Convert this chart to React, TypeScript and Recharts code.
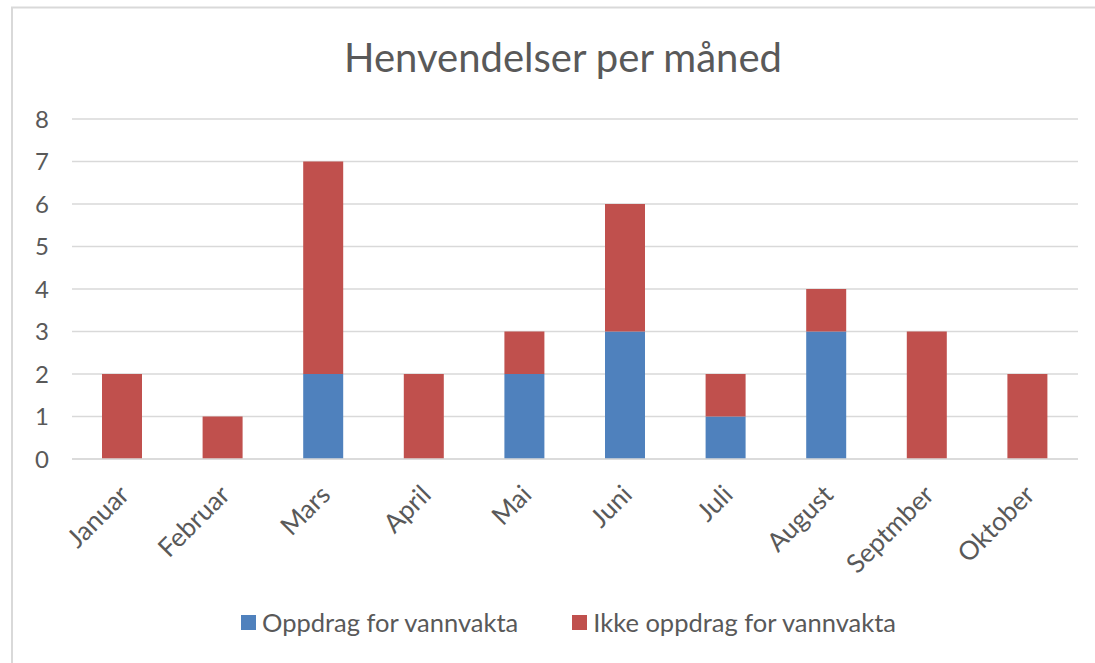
import React from 'react';
import { BarChart, Bar, XAxis, YAxis, CartesianGrid, Legend } from 'recharts';

const months = ['Januar', 'Februar', 'Mars', 'April', 'Mai', 'Juni', 'Juli', 'August', 'Septmber', 'Oktober'];
const oppdrag = [0, 0, 2, 0, 2, 3, 1, 3, 0, 0];
const ikkeOppdrag = [2, 1, 5, 2, 1, 3, 1, 1, 3, 2];
const yTicks = [0, 1, 2, 3, 4, 5, 6, 7, 8];

const BLUE = '#4F81BD';
const RED = '#C0504D';
const TEXT = '#595959';
const GRID = '#D9D9D9';
const FONT = 'Lato, "Noto Sans", sans-serif';

const data = months.map((m, i) => ({ month: m, oppdrag: oppdrag[i], ikke: ikkeOppdrag[i] }));

const MonthTick = (props: any) => {
  const { x, y, payload } = props;
  return (
    <g transform={`translate(${x + 2},${y + 23})`}>
      <text
        transform="rotate(-45)"
        textAnchor="end"
        dy="0.35em"
        fill={TEXT}
        fontSize={26}
        fontFamily={FONT}
      >
        {payload.value}
      </text>
    </g>
  );
};

const LegendContent = () => {
  const items = [
    { label: 'Oppdrag for vannvakta', color: BLUE },
    { label: 'Ikke oppdrag for vannvakta', color: RED },
  ];
  return (
    <div style={{ display: 'flex', alignItems: 'center', fontFamily: FONT, fontSize: 25.5, color: TEXT, lineHeight: 1 }}>
      {items.map((it, i) => (
        <div key={it.label} style={{ display: 'flex', alignItems: 'center', marginRight: i === 0 ? 54 : 0 }}>
          <span style={{ display: 'inline-block', width: 15, height: 15, background: it.color, marginRight: 6 }} />
          <span>{it.label}</span>
        </div>
      ))}
    </div>
  );
};

export default function App() {
  return (
    <div style={{ position: 'fixed', left: 0, top: 0, width: 1095, height: 663, overflow: 'hidden', background: '#fff' }}>
      <svg width={1095} height={663} style={{ position: 'absolute', left: 0, top: 0 }}>
        <line x1={11} y1={7.5} x2={1095} y2={7.5} stroke={GRID} strokeWidth={2} />
        <line x1={12} y1={7} x2={12} y2={663} stroke={GRID} strokeWidth={2} />
        <text x={563} y={72} textAnchor="middle" fill={TEXT} fontSize={40} fontFamily={FONT}>
          Henvendelser per måned
        </text>
      </svg>
      <div style={{ position: 'absolute', left: 0, top: 0 }}>
        <BarChart
          width={1095}
          height={663}
          data={data}
          margin={{ top: 119, right: 17, bottom: 0, left: 0 }}
        >
          <CartesianGrid vertical={false} stroke={GRID} strokeWidth={1.5} />
          <XAxis
            dataKey="month"
            interval={0}
            height={204}
            axisLine={{ stroke: GRID, strokeWidth: 1.5 }}
            tickLine={false}
            tick={<MonthTick />}
          />
          <YAxis
            domain={[0, 8]}
            ticks={yTicks}
            width={72}
            axisLine={false}
            tickLine={false}
            tickMargin={17}
            tick={{ fill: TEXT, fontSize: 24, fontFamily: FONT }}
          />
          <Legend
            layout="horizontal"
            verticalAlign="middle"
            align="center"
            wrapperStyle={{ left: 241, top: 610, width: 800 }}
            content={<LegendContent />}
          />
          <Bar dataKey="oppdrag" name="Oppdrag for vannvakta" stackId="a" fill={BLUE} barSize={40} isAnimationActive={false} />
          <Bar dataKey="ikke" name="Ikke oppdrag for vannvakta" stackId="a" fill={RED} barSize={40} isAnimationActive={false} />
        </BarChart>
      </div>
    </div>
  );
}
